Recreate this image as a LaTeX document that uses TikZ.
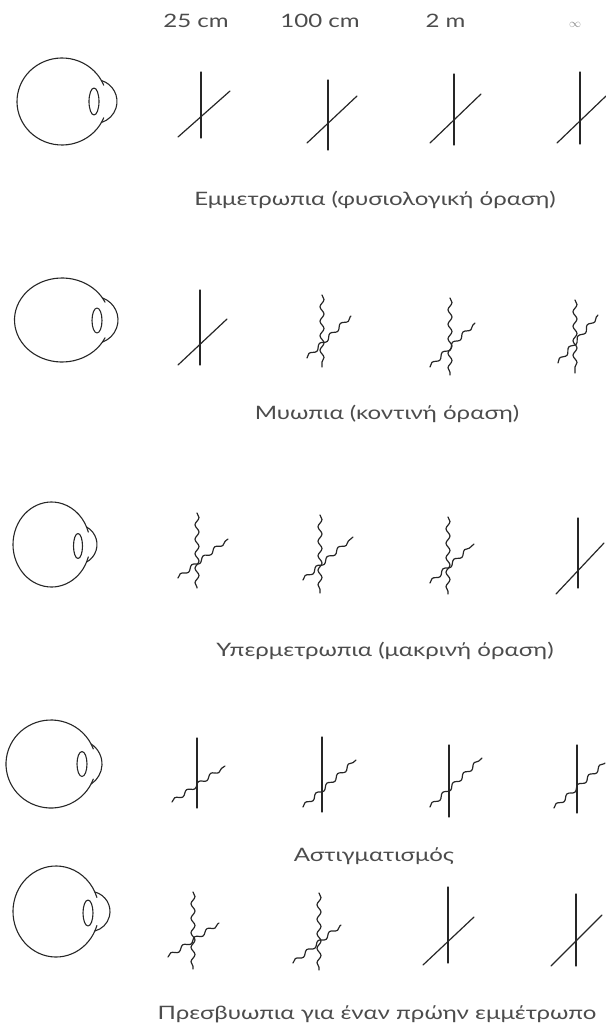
\documentclass[tikz,border=0pt]{standalone}
\usepackage{fontspec}
\setmainfont{Lato}[FakeStretch=1.3]
\usetikzlibrary{decorations.pathmorphing}

\begin{document}
\begin{tikzpicture}[x=1pt,y=-1pt,line cap=round,line join=round]
\tikzset{
    eyeline/.style= {line width=1.1pt, color=black!85},
    sharp/.style=   {line width=1.2pt, color=black!85},
    wavy/.style=    {sharp, decorate, decoration={snake, segment length=14.5pt, amplitude=2pt}},
    caption/.style= {font=\fontsize{18.5}{20}\selectfont, text=black!70, inner sep=0pt, anchor=base}
}
\useasboundingbox (0,0) rectangle (605,1032);

%% Viewing distances
\node[caption] (d25) at (196,28) {25 cm};
\node[caption] (d100) at (320,28) {100 cm};
\node[caption] (d2) at (445.5,28) {2 m};
\node[caption, font=\fontsize{12}{12}\selectfont, text=black!45] (dinf) at (575,27.5) {$\infty$};

%% Emmetropia
\draw[eyeline] (62,101.5) ++(22:45 and 43.5) arc[start angle=22, end angle=338, x radius=45, y radius=43.5];
\draw[eyeline] (95.1,101.5) ++(-73.3:21.9) arc[start angle=-73.3, end angle=73.3, radius=21.9];
\draw[eyeline] (94,101.5) ellipse [x radius=5, y radius=13.5];
\draw[sharp] (201,72) -- (201,138);  \draw[sharp] (178,137) -- (230,91);
\draw[sharp] (328,80) -- (328,150);  \draw[sharp] (307,143) -- (357,96);
\draw[sharp] (454,74) -- (454,145);  \draw[sharp] (430,143) -- (481,94);
\draw[sharp] (580,72) -- (580,144);  \draw[sharp] (557,143) -- (606,96);
\node[caption] (emm) at (375,206) {Εμμετρωπια (φυσιολογική όραση)};

%% Myopia
\draw[eyeline] (62,320) ++(25:47.5 and 42) arc[start angle=25, end angle=335, x radius=47.5, y radius=42];
\draw[eyeline] (94.6,320) ++(-70.2:23.4) arc[start angle=-70.2, end angle=70.2, radius=23.4];
\draw[eyeline] (97,320.5) ellipse [x radius=5, y radius=12.5];
\draw[sharp] (200,290) -- (200,365);  \draw[sharp] (178,365) -- (227,319);
\draw[wavy] (322,295) -- (322,367);   \draw[wavy] (307,358) -- (351,316);
\draw[wavy] (450,298) -- (450,375);   \draw[wavy] (430,367) -- (475,323);
\draw[wavy] (575,300) -- (575,373);   \draw[wavy] (558,363) -- (598,315);
\node[caption] (myo) at (387,419) {Μυωπια (κοντινή όραση)};

%% Hyperopia
\draw[eyeline] (51.5,544.5) ++(17:38.5 and 42.5) arc[start angle=17, end angle=343, x radius=38.5, y radius=42.5];
\draw[eyeline] (77.1,544.5) ++(-61.5:19.9) arc[start angle=-61.5, end angle=61.5, radius=19.9];
\draw[eyeline] (78,546) ellipse [x radius=4.5, y radius=12.5];
\draw[wavy] (197,513) -- (197,588);   \draw[wavy] (178,578) -- (228,539);
\draw[wavy] (320,515) -- (320,593);   \draw[wavy] (303,580) -- (353,537);
\draw[wavy] (448,517) -- (448,594);   \draw[wavy] (430,583) -- (474,544);
\draw[sharp] (578,518) -- (578,588);  \draw[sharp] (556,594) -- (604,543);
\node[caption] (hyp) at (385,656) {Υπερμετρωπια (μακρινή όραση)};

%% Astigmatism
\draw[eyeline] (51,764) ++(20:45 and 44) arc[start angle=20, end angle=340, x radius=45, y radius=44];
\draw[eyeline] (78.2,764) ++(-57.2:23.8) arc[start angle=-57.2, end angle=57.2, radius=23.8];
\draw[eyeline] (82,764) ellipse [x radius=5, y radius=12.5];
\draw[sharp] (197,738) -- (197,808);  \draw[wavy] (172,802) -- (225,766);
\draw[sharp] (322,737) -- (322,812);  \draw[wavy] (303,807) -- (356,760);
\draw[sharp] (449,745) -- (449,817);  \draw[wavy] (430,807) -- (482,758);
\draw[sharp] (577,745) -- (577,813);  \draw[wavy] (554,808) -- (605,763);
\node[caption] (ast) at (374,861) {Αστιγματισμός};

%% Presbyopia
\draw[eyeline] (56,911.5) ++(18:43 and 45.5) arc[start angle=18, end angle=342, x radius=43, y radius=45.5];
\draw[eyeline] (89.9,911.5) ++(-75.9:20.1) arc[start angle=-75.9, end angle=75.9, radius=20.1];
\draw[eyeline] (88,913) ellipse [x radius=5, y radius=13];
\draw[wavy] (193,892) -- (193,969);   \draw[wavy] (168,957) -- (219,923);
\draw[wavy] (319,893) -- (319,970);   \draw[wavy] (293,963) -- (341,925);
\draw[sharp] (448,887) -- (448,963);  \draw[sharp] (423,965) -- (474,917);
\draw[sharp] (576,894) -- (576,966);  \draw[sharp] (551,966) -- (602,915);
\node[caption] (pre) at (377,1019) {Πρεσβυωπια για έναν πρώην εμμέτρωπο};

\end{tikzpicture}
\end{document}
